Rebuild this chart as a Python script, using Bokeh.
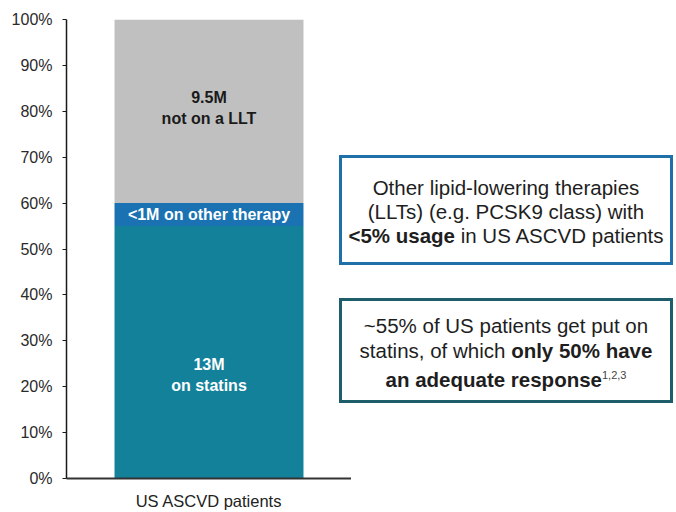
from bokeh.plotting import figure
from bokeh.models import (ColumnDataSource, FactorRange, FixedTicker,
                          NumeralTickFormatter, Div)
from bokeh.layouts import row
from bokeh.core.properties import value
from bokeh.embed import file_html
from bokeh.resources import INLINE

# ---- data ----
categories = ["US ASCVD patients"]
segments = ["on_statins", "on_other", "not_on_llt"]
statins_share = [0.55]
other_share = [0.05]
none_share = [0.40]
segment_colors = ["#14819a", "#1b72b2", "#c0c0c0"]
segment_labels = ["13M\non statins", "<1M on other therapy", "9.5M\nnot on a LLT"]
label_colors = ["#ffffff", "#ffffff", "#1a1a1a"]
label_offsets = [23, 0, -3]   # pixel nudges of the in-bar labels
y_ticks = [0, 0.1, 0.2, 0.3, 0.4, 0.5, 0.6, 0.7, 0.8, 0.9, 1.0]

FONT = "Liberation Sans"

source = ColumnDataSource(dict(
    cat=categories,
    on_statins=statins_share,
    on_other=other_share,
    not_on_llt=none_share,
))

p = figure(x_range=FactorRange(factors=categories), y_range=(0, 1),
           width=351, height=512, output_backend="svg", toolbar_location=None,
           min_border_left=66, min_border_right=0, min_border_top=19,
           min_border_bottom=31, outline_line_color=None,
           background_fill_color="white", border_fill_color="white")

p.vbar_stack(segments, x="cat", width=0.663, color=segment_colors,
             line_color=None, source=source)

# in-bar labels at the middle of each stacked segment
vals = [statins_share[0], other_share[0], none_share[0]]
mids, acc = [], 0.0
for v in vals:
    mids.append(acc + v / 2)
    acc += v
lab_src = ColumnDataSource(dict(
    x=[categories[0]] * 3, y=mids, text=segment_labels,
    color=label_colors, yoff=label_offsets,
))
p.text(x="x", y="y", text="text", source=lab_src, text_color="color",
       y_offset="yoff", text_align="center", text_baseline="middle",
       text_font=value(FONT), text_font_style="bold", text_font_size="16px",
       text_line_height=1.25)

p.xgrid.visible = False
p.ygrid.visible = False

yax = p.yaxis[0]
yax.ticker = FixedTicker(ticks=y_ticks)
yax.formatter = NumeralTickFormatter(format="0%")
yax.axis_line_color = "#1a1a1a"
yax.axis_line_width = 1.5
yax.major_tick_line_color = "#1a1a1a"
yax.major_tick_out = 4
yax.major_tick_in = 0
yax.minor_tick_line_color = None
yax.major_label_standoff = 10
yax.major_label_text_font = FONT
yax.major_label_text_font_size = "16px"
yax.major_label_text_color = "#2a2a2a"

xax = p.xaxis[0]
xax.axis_line_color = "#333333"
xax.axis_line_width = 2
xax.major_tick_line_color = None
xax.major_tick_out = 0
xax.major_label_standoff = 13
xax.major_label_text_font = FONT
xax.major_label_text_font_size = "16.5px"
xax.major_label_text_color = "#222222"

box_html = """
<div style="position:relative; left:-12px; width:334px; padding-top:155px;
            font-family:'Liberation Sans', Arial, sans-serif; color:#1e1e1e;">
  <div style="height:110px; box-sizing:border-box; border:3px solid #1f6fa9;
              display:flex; align-items:center; justify-content:center;
              text-align:center; font-size:20.5px; line-height:24px; background:#fff;">
    <div style="padding-top:3px;">Other lipid-lowering therapies<br>(LLTs) (e.g. PCSK9 class) with<br>
    <b>&lt;5% usage</b> in US ASCVD patients</div>
  </div>
  <div style="margin-top:33px; height:105px; box-sizing:border-box; border:3px solid #1e5d6a;
              display:flex; align-items:center; justify-content:center;
              text-align:center; font-size:20.5px; line-height:25px; background:#fff;">
    <div style="padding-top:3px;">~55% of US patients get put on<br>statins, of which <b>only 50% have<br>
    an adequate response</b><sup style="font-size:11px; color:#444;">1,2,3</sup></div>
  </div>
</div>
"""
div = Div(text=box_html, width=325, height=512, margin=0)

layout = row(p, div)

open("out.html", "w").write(file_html(layout, INLINE))
